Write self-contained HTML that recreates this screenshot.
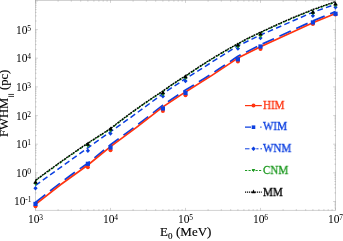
<!DOCTYPE html><html><head><meta charset="utf-8"><style>
html,body{margin:0;padding:0;background:#fff;}
body{width:343px;height:241px;position:relative;overflow:hidden;font-family:"Liberation Serif",serif;color:#000;}
.t{position:absolute;white-space:nowrap;line-height:1;will-change:transform;-webkit-text-stroke:0.15px currentColor;}
.tk{font-size:11.5px;-webkit-text-stroke:0;}
.tk sup{font-size:7.5px;vertical-align:baseline;position:relative;top:-2.9px;margin-left:-0.3px;line-height:0;}
.lg{font-size:11.7px;-webkit-text-stroke:0.3px currentColor;transform:scaleX(0.945);transform-origin:0 0;}
.ax{font-size:13px;}
.ax sub{font-size:7px;vertical-align:baseline;position:relative;top:2px;line-height:0;}
</style></head><body>
<svg width="343" height="241" viewBox="0 0 343 241" style="position:absolute;left:0;top:0">
<clipPath id="cp"><rect x="35.5" y="0.6" width="300.0" height="209.6"/></clipPath>
<rect x="35.5" y="0.6" width="300.0" height="209.6" fill="none" stroke="#a4a4a4" stroke-width="0.5"/>
<path d="M35.5,210.7 v-2.8 M35.5,0.09999999999999998 v2.8 M58.1,210.7 v-1.6 M58.1,0.09999999999999998 v1.6 M71.3,210.7 v-1.6 M71.3,0.09999999999999998 v1.6 M80.7,210.7 v-1.6 M80.7,0.09999999999999998 v1.6 M87.9,210.7 v-1.6 M87.9,0.09999999999999998 v1.6 M93.9,210.7 v-1.6 M93.9,0.09999999999999998 v1.6 M98.9,210.7 v-1.6 M98.9,0.09999999999999998 v1.6 M103.2,210.7 v-1.6 M103.2,0.09999999999999998 v1.6 M107.1,210.7 v-1.6 M107.1,0.09999999999999998 v1.6 M110.5,210.7 v-2.8 M110.5,0.09999999999999998 v2.8 M133.1,210.7 v-1.6 M133.1,0.09999999999999998 v1.6 M146.3,210.7 v-1.6 M146.3,0.09999999999999998 v1.6 M155.7,210.7 v-1.6 M155.7,0.09999999999999998 v1.6 M162.9,210.7 v-1.6 M162.9,0.09999999999999998 v1.6 M168.9,210.7 v-1.6 M168.9,0.09999999999999998 v1.6 M173.9,210.7 v-1.6 M173.9,0.09999999999999998 v1.6 M178.2,210.7 v-1.6 M178.2,0.09999999999999998 v1.6 M182.1,210.7 v-1.6 M182.1,0.09999999999999998 v1.6 M185.5,210.7 v-2.8 M185.5,0.09999999999999998 v2.8 M208.1,210.7 v-1.6 M208.1,0.09999999999999998 v1.6 M221.3,210.7 v-1.6 M221.3,0.09999999999999998 v1.6 M230.7,210.7 v-1.6 M230.7,0.09999999999999998 v1.6 M237.9,210.7 v-1.6 M237.9,0.09999999999999998 v1.6 M243.9,210.7 v-1.6 M243.9,0.09999999999999998 v1.6 M248.9,210.7 v-1.6 M248.9,0.09999999999999998 v1.6 M253.2,210.7 v-1.6 M253.2,0.09999999999999998 v1.6 M257.1,210.7 v-1.6 M257.1,0.09999999999999998 v1.6 M260.5,210.7 v-2.8 M260.5,0.09999999999999998 v2.8 M283.1,210.7 v-1.6 M283.1,0.09999999999999998 v1.6 M296.3,210.7 v-1.6 M296.3,0.09999999999999998 v1.6 M305.7,210.7 v-1.6 M305.7,0.09999999999999998 v1.6 M312.9,210.7 v-1.6 M312.9,0.09999999999999998 v1.6 M318.9,210.7 v-1.6 M318.9,0.09999999999999998 v1.6 M323.9,210.7 v-1.6 M323.9,0.09999999999999998 v1.6 M328.2,210.7 v-1.6 M328.2,0.09999999999999998 v1.6 M332.1,210.7 v-1.6 M332.1,0.09999999999999998 v1.6 M335.5,210.7 v-2.8 M335.5,0.09999999999999998 v2.8 M35.0,207.9 h1.6 M336.0,207.9 h-1.6 M35.0,205.9 h1.6 M336.0,205.9 h-1.6 M35.0,204.3 h1.6 M336.0,204.3 h-1.6 M35.0,202.8 h1.6 M336.0,202.8 h-1.6 M35.0,201.5 h2.8 M336.0,201.5 h-2.8 M35.0,192.9 h1.6 M336.0,192.9 h-1.6 M35.0,187.8 h1.6 M336.0,187.8 h-1.6 M35.0,184.3 h1.6 M336.0,184.3 h-1.6 M35.0,181.5 h1.6 M336.0,181.5 h-1.6 M35.0,179.2 h1.6 M336.0,179.2 h-1.6 M35.0,177.3 h1.6 M336.0,177.3 h-1.6 M35.0,175.6 h1.6 M336.0,175.6 h-1.6 M35.0,174.2 h1.6 M336.0,174.2 h-1.6 M35.0,172.8 h2.8 M336.0,172.8 h-2.8 M35.0,164.2 h1.6 M336.0,164.2 h-1.6 M35.0,159.2 h1.6 M336.0,159.2 h-1.6 M35.0,155.6 h1.6 M336.0,155.6 h-1.6 M35.0,152.8 h1.6 M336.0,152.8 h-1.6 M35.0,150.6 h1.6 M336.0,150.6 h-1.6 M35.0,148.6 h1.6 M336.0,148.6 h-1.6 M35.0,147.0 h1.6 M336.0,147.0 h-1.6 M35.0,145.5 h1.6 M336.0,145.5 h-1.6 M35.0,144.2 h2.8 M336.0,144.2 h-2.8 M35.0,135.6 h1.6 M336.0,135.6 h-1.6 M35.0,130.5 h1.6 M336.0,130.5 h-1.6 M35.0,127.0 h1.6 M336.0,127.0 h-1.6 M35.0,124.2 h1.6 M336.0,124.2 h-1.6 M35.0,121.9 h1.6 M336.0,121.9 h-1.6 M35.0,120.0 h1.6 M336.0,120.0 h-1.6 M35.0,118.3 h1.6 M336.0,118.3 h-1.6 M35.0,116.9 h1.6 M336.0,116.9 h-1.6 M35.0,115.6 h2.8 M336.0,115.6 h-2.8 M35.0,106.9 h1.6 M336.0,106.9 h-1.6 M35.0,101.9 h1.6 M336.0,101.9 h-1.6 M35.0,98.3 h1.6 M336.0,98.3 h-1.6 M35.0,95.5 h1.6 M336.0,95.5 h-1.6 M35.0,93.3 h1.6 M336.0,93.3 h-1.6 M35.0,91.3 h1.6 M336.0,91.3 h-1.6 M35.0,89.7 h1.6 M336.0,89.7 h-1.6 M35.0,88.2 h1.6 M336.0,88.2 h-1.6 M35.0,86.9 h2.8 M336.0,86.9 h-2.8 M35.0,78.3 h1.6 M336.0,78.3 h-1.6 M35.0,73.2 h1.6 M336.0,73.2 h-1.6 M35.0,69.7 h1.6 M336.0,69.7 h-1.6 M35.0,66.9 h1.6 M336.0,66.9 h-1.6 M35.0,64.6 h1.6 M336.0,64.6 h-1.6 M35.0,62.7 h1.6 M336.0,62.7 h-1.6 M35.0,61.0 h1.6 M336.0,61.0 h-1.6 M35.0,59.6 h1.6 M336.0,59.6 h-1.6 M35.0,58.2 h2.8 M336.0,58.2 h-2.8 M35.0,49.6 h1.6 M336.0,49.6 h-1.6 M35.0,44.6 h1.6 M336.0,44.6 h-1.6 M35.0,41.0 h1.6 M336.0,41.0 h-1.6 M35.0,38.2 h1.6 M336.0,38.2 h-1.6 M35.0,36.0 h1.6 M336.0,36.0 h-1.6 M35.0,34.0 h1.6 M336.0,34.0 h-1.6 M35.0,32.4 h1.6 M336.0,32.4 h-1.6 M35.0,30.9 h1.6 M336.0,30.9 h-1.6 M35.0,29.6 h2.8 M336.0,29.6 h-2.8 M35.0,21.0 h1.6 M336.0,21.0 h-1.6 M35.0,15.9 h1.6 M336.0,15.9 h-1.6 M35.0,12.4 h1.6 M336.0,12.4 h-1.6 M35.0,9.6 h1.6 M336.0,9.6 h-1.6 M35.0,7.3 h1.6 M336.0,7.3 h-1.6 M35.0,5.4 h1.6 M336.0,5.4 h-1.6 M35.0,3.7 h1.6 M336.0,3.7 h-1.6 M35.0,2.3 h1.6 M336.0,2.3 h-1.6 M35.0,1.0 h2.8 M336.0,1.0 h-2.8" stroke="#a4a4a4" stroke-width="0.5" fill="none"/>
<g><path d="M35.5,202.50 Q61.7,181.25 87.9,163.20 L110.5,144.80 Q136.7,125.95 162.9,105.10 L185.5,90.10 Q211.7,74.20 237.9,56.30 L260.5,44.90 L312.9,20.90 L335.5,11.70" stroke="#0b3fe0" stroke-width="1.8" fill="none" stroke-dasharray="12.5 6"/><path d="M35.5,204.30 Q61.7,183.05 87.9,165.00 L110.5,146.60 Q136.7,127.75 162.9,106.90 L185.5,91.90 Q211.7,76.00 237.9,58.10 L260.5,46.70 L312.9,22.70 L335.5,13.50" stroke="#ff3410" stroke-width="1.7" fill="none"/><path d="M35.5,185.40 L87.9,147.80 L110.5,131.70 Q136.7,113.45 162.9,93.60 L185.5,78.70 L237.9,45.80 L260.5,35.00 L312.9,12.20 L335.5,4.20" stroke="#0b3fe0" stroke-width="1.5" fill="none" stroke-dasharray="5.7 3.3"/><path d="M35.5,180.85 Q61.7,161.20 87.9,143.55 L110.5,129.05 Q136.7,108.30 162.9,91.55 Q174.2,83.20 185.5,76.45 Q211.7,58.35 237.9,44.25 Q249.2,37.75 260.5,32.85 Q286.7,20.25 312.9,10.05 L335.5,2.15" stroke="#1f9a22" stroke-width="1.3" fill="none" stroke-dasharray="3 2"/><path d="M35.5,180.30 Q61.7,160.65 87.9,143.00 L110.5,128.50 Q136.7,107.75 162.9,91.00 Q174.2,82.65 185.5,75.90 Q211.7,57.80 237.9,43.70 Q249.2,37.20 260.5,32.30 Q286.7,19.70 312.9,9.50 L335.5,1.60" stroke="#000" stroke-width="1.35" fill="none" stroke-dasharray="1.9 0.8"/></g>
<circle cx="35.5" cy="206.2" r="2.0" fill="#ff3410"/><circle cx="87.9" cy="167.3" r="2.0" fill="#ff3410"/><circle cx="110.5" cy="150.3" r="2.0" fill="#ff3410"/><circle cx="162.9" cy="111.0" r="2.0" fill="#ff3410"/><circle cx="185.5" cy="95.3" r="2.0" fill="#ff3410"/><circle cx="237.9" cy="61.6" r="2.0" fill="#ff3410"/><circle cx="260.5" cy="49.1" r="2.0" fill="#ff3410"/><circle cx="312.9" cy="24.0" r="2.0" fill="#ff3410"/><circle cx="335.5" cy="14.5" r="2.0" fill="#ff3410"/><rect x="33.4" y="201.8" width="4.2" height="4.2" fill="#0b3fe0"/><rect x="85.8" y="161.7" width="4.2" height="4.2" fill="#0b3fe0"/><rect x="108.4" y="145.4" width="4.2" height="4.2" fill="#0b3fe0"/><rect x="160.8" y="106.4" width="4.2" height="4.2" fill="#0b3fe0"/><rect x="183.4" y="90.9" width="4.2" height="4.2" fill="#0b3fe0"/><rect x="235.8" y="57.2" width="4.2" height="4.2" fill="#0b3fe0"/><rect x="258.4" y="44.4" width="4.2" height="4.2" fill="#0b3fe0"/><rect x="310.8" y="20.3" width="4.2" height="4.2" fill="#0b3fe0"/><rect x="333.4" y="11.7" width="4.2" height="4.2" fill="#0b3fe0"/><path d="M35.5,186.1 L37.6,188.3 L35.5,190.5 L33.4,188.3Z" fill="#0b3fe0"/><path d="M87.9,148.6 L90.0,150.8 L87.9,153.0 L85.8,150.8Z" fill="#0b3fe0"/><path d="M110.5,131.3 L112.6,133.5 L110.5,135.7 L108.4,133.5Z" fill="#0b3fe0"/><path d="M162.9,94.0 L165.0,96.2 L162.9,98.4 L160.8,96.2Z" fill="#0b3fe0"/><path d="M185.5,78.8 L187.6,81.0 L185.5,83.2 L183.4,81.0Z" fill="#0b3fe0"/><path d="M237.9,46.4 L240.0,48.6 L237.9,50.8 L235.8,48.6Z" fill="#0b3fe0"/><path d="M260.5,35.9 L262.6,38.1 L260.5,40.3 L258.4,38.1Z" fill="#0b3fe0"/><path d="M312.9,13.5 L315.0,15.7 L312.9,17.9 L310.8,15.7Z" fill="#0b3fe0"/><path d="M335.5,5.1 L337.6,7.3 L335.5,9.5 L333.4,7.3Z" fill="#0b3fe0"/><path d="M35.5,186.0 L37.5,182.4 L33.5,182.4Z" fill="#1f9a22"/><path d="M87.9,148.0 L89.9,144.4 L85.9,144.4Z" fill="#1f9a22"/><path d="M110.5,132.7 L112.5,129.1 L108.5,129.1Z" fill="#1f9a22"/><path d="M162.9,96.5 L164.9,92.9 L160.9,92.9Z" fill="#1f9a22"/><path d="M185.5,80.3 L187.5,76.7 L183.5,76.7Z" fill="#1f9a22"/><path d="M237.9,48.9 L239.9,45.3 L235.9,45.3Z" fill="#1f9a22"/><path d="M260.5,38.4 L262.5,34.8 L258.5,34.8Z" fill="#1f9a22"/><path d="M312.9,15.6 L314.9,12.0 L310.9,12.0Z" fill="#1f9a22"/><path d="M335.5,7.6 L337.5,4.0 L333.5,4.0Z" fill="#1f9a22"/><path d="M35.5,179.8 L37.7,183.8 L33.3,183.8Z" fill="#000"/><path d="M87.9,141.8 L90.1,145.8 L85.7,145.8Z" fill="#000"/><path d="M110.5,126.6 L112.7,130.6 L108.3,130.6Z" fill="#000"/><path d="M162.9,90.2 L165.1,94.2 L160.7,94.2Z" fill="#000"/><path d="M185.5,74.3 L187.7,78.3 L183.3,78.3Z" fill="#000"/><path d="M237.9,42.4 L240.1,46.4 L235.7,46.4Z" fill="#000"/><path d="M260.5,31.5 L262.7,35.5 L258.3,35.5Z" fill="#000"/><path d="M312.9,9.7 L315.1,13.7 L310.7,13.7Z" fill="#000"/><path d="M335.5,1.6 L337.7,5.6 L333.3,5.6Z" fill="#000"/>
<path d="M245,105.6 H261.8" stroke="#ff3410" stroke-width="1.2"/><circle cx="253.5" cy="105.6" r="2.0" fill="#ff3410"/>
<path d="M245,127.2 H251 M260.3,127.2 h1.2" stroke="#0b3fe0" stroke-width="1.3"/><rect x="251.7" y="125.4" width="3.6" height="3.6" fill="#0b3fe0"/>
<path d="M245,148.8 h4.5 M256.3,148.8 h2.2 M260.4,148.8 h1.6" stroke="#0b3fe0" stroke-width="1"/><path d="M253.5,146.5 L255.7,148.8 L253.5,151.1 L251.3,148.8Z" fill="#0b3fe0"/>
<path d="M245,170.5 H261.8" stroke="#1f9a22" stroke-width="1.2" stroke-dasharray="2.2 1.3"/><path d="M253.5,172.3 L255.3,169.1 L251.7,169.1Z" fill="#1f9a22"/>
<path d="M245,192.1 H261.8" stroke="#000" stroke-width="1.2" stroke-dasharray="1.2 0.8"/><path d="M253.5,189.6 L255.5,193.2 L251.5,193.2Z" fill="#000"/>
<path d="M8.3,94.45 H14 M8.3,96.45 H14" stroke="#000" stroke-width="0.75"/>
</svg>
<div class="t tk" style="right:311.8px;top:196.4px">10<sup>-1</sup></div>
<div class="t tk" style="right:311.8px;top:167.8px">10<sup>0</sup></div>
<div class="t tk" style="right:311.8px;top:139.1px">10<sup>1</sup></div>
<div class="t tk" style="right:311.8px;top:110.5px">10<sup>2</sup></div>
<div class="t tk" style="right:311.8px;top:81.8px">10<sup>3</sup></div>
<div class="t tk" style="right:311.8px;top:53.1px">10<sup>4</sup></div>
<div class="t tk" style="right:311.8px;top:24.5px">10<sup>5</sup></div>
<div class="t tk" style="left:28.2px;top:213.5px">10<sup>3</sup></div>
<div class="t tk" style="left:103.2px;top:213.5px">10<sup>4</sup></div>
<div class="t tk" style="left:178.2px;top:213.5px">10<sup>5</sup></div>
<div class="t tk" style="left:253.2px;top:213.5px">10<sup>6</sup></div>
<div class="t tk" style="left:328.2px;top:213.5px">10<sup>7</sup></div>
<div class="t ax" style="left:159.8px;top:224.7px">E</div>
<div class="t" style="font-size:9px;left:167.8px;top:232.4px">0</div>
<div class="t ax" style="left:175.6px;top:224.7px">(MeV)</div>
<div class="t ax" style="left:-1.8px;top:136.8px;font-size:12.6px;transform-origin:0 0;transform:rotate(-90deg);">FWHM</div>
<div class="t ax" style="left:-1.8px;top:90.1px;font-size:12.6px;transform-origin:0 0;transform:rotate(-90deg);">(pc)</div>
<div class="t lg" style="left:263.3px;top:99.7px;color:#ff3410">HIM</div>
<div class="t lg" style="left:263.3px;top:121.4px;color:#0b3fe0">WIM</div>
<div class="t lg" style="left:263.3px;top:143.1px;color:#0b3fe0">WNM</div>
<div class="t lg" style="left:263.3px;top:164.8px;color:#1f9a22">CNM</div>
<div class="t lg" style="left:263.3px;top:186.5px;color:#000">MM</div>
</body></html>
